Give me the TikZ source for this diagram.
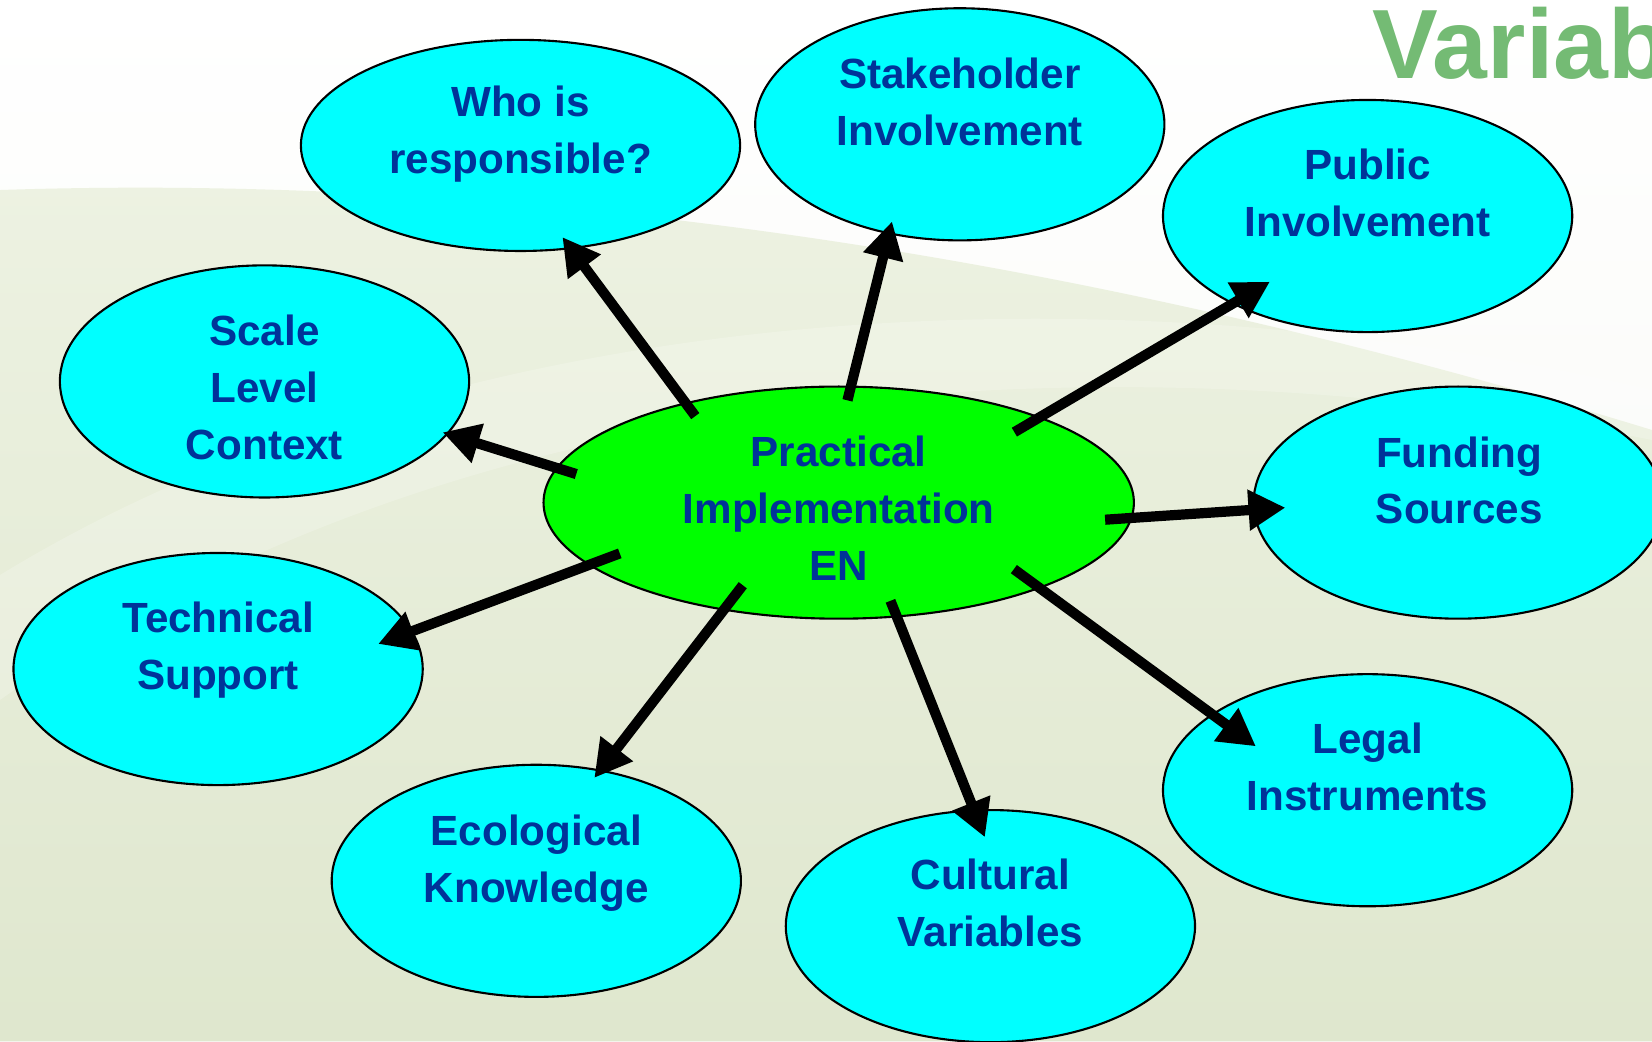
\documentclass[tikz,border=0pt]{standalone}
\usepackage{fontspec}
\setmainfont{Liberation Sans}
\usetikzlibrary{shapes.geometric,arrows.meta}
\definecolor{txtblue}{RGB}{0,51,153}
\definecolor{ttlgreen}{RGB}{116,187,116}
\definecolor{bubcyan}{RGB}{0,255,255}
\definecolor{bubgreen}{RGB}{0,255,0}
\definecolor{bgwhite}{RGB}{246,247,241}
\definecolor{bgtop}{RGB}{237,242,226}
\definecolor{bgbot}{RGB}{223,231,206}

\begin{document}
\begin{tikzpicture}
[x=0.01cm,y=0.01cm,%
  bubble/.style={shape=ellipse,draw,line width=0.6pt,fill=bubcyan,inner sep=0pt,outer sep=0pt,%
    minimum width=4.09cm,minimum height=2.32cm},%
  lbl/.style={text=txtblue,align=center,inner sep=0pt,font=\bfseries\fontsize{12}{16.2}\selectfont},%
  arr/.style={line width=2.9pt,-{Triangle[length=10.5pt,width=11pt]}}]
\useasboundingbox (0,0) rectangle (1652,-1041);
\clip (0,0) rectangle (1652,-1041);
% background
\shade[top color=white,bottom color=bgwhite] (0,0) rectangle (1652,-1041);
\shade[top color=bgtop,bottom color=bgbot] (0,-190) .. controls (450,-175) and (1000,-230) .. (1652,-430)
  -- (1652,-1041) -- (0,-1041) -- cycle;
\fill[white,opacity=0.2] (0,-575) .. controls (450,-300) and (1100,-260) .. (1652,-390)
  -- (1652,-440) .. controls (1100,-330) and (450,-380) .. (0,-700) -- cycle;
\node[anchor=north west,inner sep=0pt,text=ttlgreen,font=\bfseries\fontsize{28}{34}\selectfont] (ttl) at (1372,-6) {Variab};
% bubbles
\node[bubble,minimum width=4.39cm,minimum height=2.11cm] (who) at (520.5,-145.4) {};
\node[bubble] (stake) at (959.8,-124.3) {};
\node[bubble] (pub) at (1367.6,-216) {};
\node[bubble] (scale) at (264.5,-381.4) {};
\node[bubble,fill=bubgreen,minimum width=5.9cm] (impl) at (838.7,-502.6) {};
\node[bubble] (fund) at (1458.2,-502.6) {};
\node[bubble] (tech) at (218.1,-669) {};
\node[bubble] (legal) at (1367.6,-790.2) {};
\node[bubble] (eco) at (536.3,-880.8) {};
\node[bubble] (cult) at (990.4,-926.1) {};
% texts
\node[lbl] (who-t) at (520.5,-134.1) {Who is\\responsible?};
\node[lbl] (stake-t) at (959.8,-102.2) {Stakeholder\\Involvement};
\node[lbl] (pub-t) at (1367.6,-193.3) {Public\\Involvement};
\node[lbl] (scale-t) at (264.5,-387.7) {Scale\\Level\\Context};
\node[lbl] (impl-t) at (838.7,-508.4) {Practical\\Implementation\\EN};
\node[lbl] (fund-t) at (1459.2,-480.4) {Funding\\Sources};
\node[lbl] (tech-t) at (218.1,-650.4) {Technical\\Support};
\node[lbl] (legal-t) at (1367.6,-767) {Legal\\Instruments};
\node[lbl] (eco-t) at (536.3,-863.2) {Ecological\\Knowledge};
\node[lbl] (cult-t) at (990.4,-903) {Cultural\\Variables};
% arrows
\draw[arr,shorten <=-1.59mm,shorten >=-1.38mm] (impl.147) -- (who.-64.4);
\draw[arr,shorten <=-1.41mm,shorten >=-1.22mm] (impl.84.7) -- (stake.-123);
\draw[arr,shorten <=-2.89mm,shorten >=-4.29mm] (impl.23.1) -- (pub.-147.2);
\draw[arr,shorten <=-2.02mm,shorten >=-0.48mm] (impl.173.6) -- (scale.-16);
\draw[arr,shorten <=-2.62mm,shorten >=-3.15mm] (impl.-3.5) -- (fund.-178.3);
\draw[arr,shorten <=-3.24mm,shorten >=-3.58mm] (impl.-166.1) -- (tech.11.4);
\draw[arr,shorten <=-3.07mm,shorten >=-0.93mm] (impl.-137.7) -- (eco.60.9);
\draw[arr,shorten <=-1.68mm,shorten >=-2.89mm] (impl.-63.1) -- (cult.98.8);
\draw[arr,shorten <=-3.15mm,shorten >=-5.38mm] (impl.-23.1) -- (legal.154.7);
\end{tikzpicture}
\end{document}
